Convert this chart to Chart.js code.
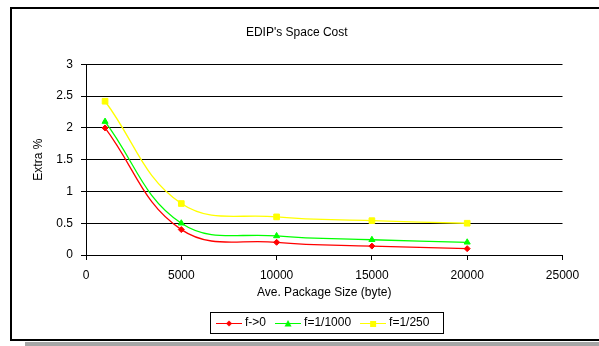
<!DOCTYPE html>
<html>
<head>
<meta charset="utf-8">
<script src="https://cdn.jsdelivr.net/npm/chart.js@4/dist/chart.umd.min.js"></script>
<style>
  body { margin: 0; background: #fff; }
  #frame { position: absolute; left: 10px; top: 7px; width: 600px; height: 330px; border: 2px solid #000; border-right: none; }
  #shadow { position: absolute; left: 25px; top: 342px; width: 600px; height: 4px; background: #a6a6a6; }
  #myChart { position: absolute; left: 0; top: 0; }
</style>
</head>
<body>
<div id="frame"></div>
<div id="shadow"></div>
<canvas id="myChart" width="599" height="346"></canvas>
<script>
// values
let packageSizes = [1000, 5000, 10000, 15000, 20000];
let fZero = [2.0, 0.4, 0.2, 0.14, 0.1];
let f1000 = [2.1, 0.5, 0.3, 0.24, 0.2];
let f250 = [2.42, 0.81, 0.6, 0.54, 0.5];
let seriesNames = ["f->0", "f=1/1000", "f=1/250"];
let xTicks = [0, 5000, 10000, 15000, 20000, 25000];
let yTicks = [0, 0.5, 1, 1.5, 2, 2.5, 3];

Chart.defaults.font.family = '"Liberation Sans", Arial, sans-serif';
Chart.defaults.font.size = 12;
Chart.defaults.color = '#000';

// little line+marker picture for the legend, like excel does
// (26px wide but the legend only reserves 20, so the text sits closer)
function legendIcon(color, style){
    let c = document.createElement('canvas');
    c.width = 26; c.height = 10;
    let g = c.getContext('2d');
    g.fillStyle = color;
    g.fillRect(0, 5, 26, 1);
    g.beginPath();
    if (style == 'rectRot') {
        g.moveTo(13, 2.5); g.lineTo(16, 5.5); g.lineTo(13, 8.5); g.lineTo(10, 5.5);
    } else if (style == 'triangle') {
        g.moveTo(13, 2); g.lineTo(16.5, 8.5); g.lineTo(9.5, 8.5);
    } else {
        g.rect(10, 3, 6, 6);
    }
    g.closePath();
    g.fill();
    return c;
}

function toPoints(vals){
    return vals.map((v, i) => ({ x: packageSizes[i], y: v }));
}

let colors = ['#ff0000', '#00ff00', '#ffff00'];
let styles = ['rectRot', 'triangle', 'rect'];
let radii = [3, 3.5, 4];
let allSeries = [fZero, f1000, f250];

let datasets = allSeries.map((vals, i) => ({
    label: seriesNames[i],
    data: toPoints(vals),
    borderColor: colors[i],
    backgroundColor: colors[i],
    borderWidth: 1.3,
    pointStyle: styles[i],
    pointRadius: radii[i],
    pointBorderWidth: 1,
    tension: 0.4
}));

const legendBox = {
    id: 'legendBox',
    afterDraw(chart){
        const lg = chart.legend;
        const hb = lg.legendHitBoxes;
        if (!hb || !hb.length) return;
        let left = Math.min(...hb.map(h => h.left)) - 9;
        let right = Math.max(...hb.map(h => h.left + h.width)) + 14;
        let cy = lg.top + lg.options.labels.padding + 6;
        const ctx = chart.ctx;
        ctx.save();
        ctx.strokeStyle = '#000';
        ctx.lineWidth = 1;
        ctx.strokeRect(Math.round(left) + 0.5, Math.round(cy - 11) + 0.5, Math.round(right - left), 21);
        ctx.restore();
    }
};

var ctx = document.getElementById('myChart').getContext('2d');
var myChart = new Chart(ctx, {
    type: 'line',
    data: { datasets: datasets },
    options: {
        responsive: false,
        animation: false,
        devicePixelRatio: 1,
        layout: { padding: { left: 31, right: 36.5, top: 25, bottom: 7 } },
        plugins: {
            title: {
                display: true,
                text: "EDIP's Space Cost",
                font: { size: 12, weight: 'normal' },
                color: '#000',
                padding: { top: 0, bottom: 25 }
            },
            legend: {
                position: 'bottom',
                fullSize: false,
                labels: {
                    usePointStyle: true,
                    pointStyleWidth: 20,
                    padding: 12,
                    font: { size: 12 },
                    generateLabels: (chart) => chart.data.datasets.map((ds, i) => ({
                        text: ds.label,
                        pointStyle: legendIcon(colors[i], styles[i]),
                        fillStyle: colors[i],
                        strokeStyle: colors[i],
                        lineWidth: 0,
                        datasetIndex: i,
                        hidden: false
                    }))
                }
            },
            tooltip: { enabled: false }
        },
        scales: {
            x: {
                type: 'linear',
                min: 0,
                max: 25000,
                afterBuildTicks: (s) => { s.ticks = xTicks.map(v => ({ value: v })); },
                afterFit: (s) => { s.height = 50; },
                ticks: { padding: 8, callback: (v) => String(v) },
                grid: { drawOnChartArea: false, color: '#000', tickLength: 5 },
                border: { color: '#000', width: 1 },
                title: { display: true, text: 'Ave. Package Size (byte)', padding: { top: 0, bottom: 5 } }
            },
            y: {
                min: 0,
                max: 3,
                afterBuildTicks: (s) => { s.ticks = yTicks.map(v => ({ value: v })); },
                afterFit: (s) => { s.width = 55; },
                ticks: { padding: 8, callback: (v) => String(v) },
                grid: { color: '#000', tickLength: 5 },
                border: { color: '#000', width: 1 },
                title: { display: true, text: 'Extra %', padding: { top: 0, bottom: 0 } }
            }
        }
    },
    plugins: [legendBox]
});
</script>
</body>
</html>
